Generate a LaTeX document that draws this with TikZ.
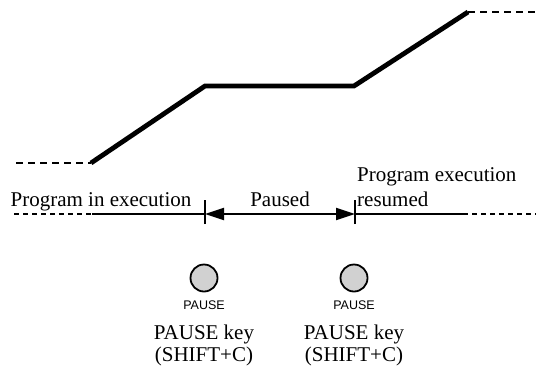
\documentclass[tikz,border=0pt]{standalone}
\usepackage{fontspec}
\setmainfont{Liberation Serif}
\newfontfamily\keyfont{Liberation Sans}
\usetikzlibrary{arrows.meta}
\begin{document}
\begin{tikzpicture}[x=1bp,y=-1bp,
  thickline/.style={line width=4.8bp,line join=miter},
  topdash/.style={line width=2bp,dash pattern=on 7bp off 5bp},
  lowdash/.style={line width=1.1bp,dash pattern=on 5bp off 4bp},
  lowline/.style={line width=1.1bp},
  tick/.style={line width=1.1bp},
  lbl/.style={font=\fontsize{21bp}{25bp}\selectfont,inner sep=0pt,anchor=base},
  keylbl/.style={font=\keyfont\fontsize{12.5bp}{14bp}\selectfont,inner sep=0pt,anchor=base},
  keybtn/.style={circle,draw=black,line width=1.8bp,fill=black!18,minimum size=27bp,inner sep=0pt},
  pausearrow/.style={line width=2.2bp,{Triangle[length=19bp,width=12bp]}-{Triangle[length=19bp,width=12bp]}}
]
\useasboundingbox (0,0) rectangle (536,368);
% upper curve
\coordinate (a0) at (16,163);
\coordinate (a1) at (91,163);
\coordinate (a2) at (205,86);
\coordinate (a3) at (354,86);
\coordinate (a4) at (468,12);
\coordinate (a5) at (536,12);
\draw[topdash] (a0) -- (a1);
\draw[thickline] (a1) -- (a2) -- (a3) -- (a4);
\draw[topdash] (a4) -- (a5);
% time line
\coordinate (l0) at (14,214);
\coordinate (l1) at (92,214);
\coordinate (l2) at (130,214);
\coordinate (t1) at (205,214);
\coordinate (t2) at (355,214);
\coordinate (r1) at (418,214);
\coordinate (r2) at (468,214);
\coordinate (r3) at (536,214);
\draw[lowline] (l1) -- (t1);
\draw[lowdash] (l0) -- (l2);
\draw[lowline] (t2) -- (r2);
\draw[lowdash] (r1) -- (r3);
\draw[tick] ([yshift=-10bp]t1) -- ([yshift=14bp]t1);
\draw[tick] ([yshift=-10bp]t2) -- ([yshift=14bp]t2);
\draw[pausearrow] (t1) -- (t2);
% labels
\node[lbl] (exec) at (101,206) {Program in execution};
\node[lbl] (paused) at (280,206) {Paused};
\node[lbl,anchor=base west] (res1) at (357,181) {Program execution};
\node[lbl,anchor=base west] (res2) at (357,206) {resumed};
% keys
\node[keybtn] (k1) at (204,278) {};
\node[keybtn] (k2) at (354,278) {};
\node[keylbl] (p1) at (204,309) {PAUSE};
\node[keylbl] (p2) at (354,309) {PAUSE};
\node[lbl] (pk1) at (204,339) {PAUSE key};
\node[lbl] (pk2) at (354,339) {PAUSE key};
\node[lbl] (sc1) at (204,361) {(SHIFT+C)};
\node[lbl] (sc2) at (354,361) {(SHIFT+C)};
\end{tikzpicture}
\end{document}
